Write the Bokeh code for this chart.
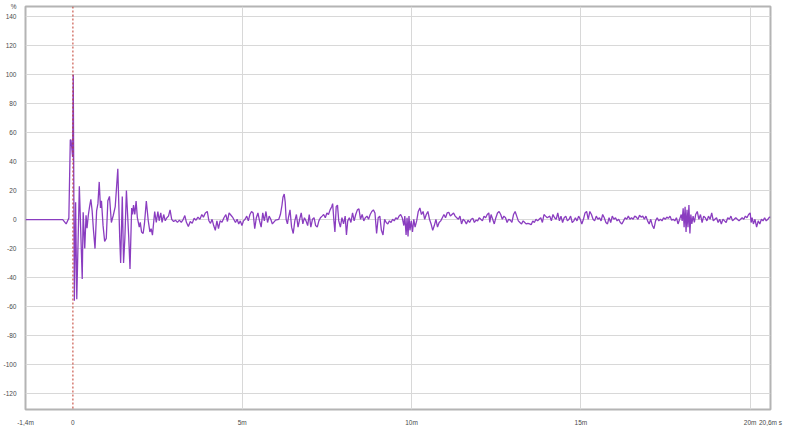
from bokeh.plotting import figure
from bokeh.models import FixedTicker, Span, Range1d
from bokeh.embed import file_html
from bokeh.resources import INLINE

# Impulse response: time in ms, level in %
time_ms = [
    -1.4, -0.3, -0.2, -0.12, -0.077, -0.057, -0.035, -0.009, 0.01, 0.043, 0.08, 0.114,
    0.19, 0.275, 0.303, 0.35, 0.388, 0.417, 0.455, 0.492, 0.53, 0.568, 0.606, 0.653,
    0.70, 0.739, 0.777, 0.814, 0.843, 0.89, 0.937, 0.985, 1.032, 1.08, 1.136, 1.193,
    1.25, 1.326, 1.383, 1.41, 1.458, 1.496, 1.534, 1.58, 1.648, 1.686, 1.735, 1.761,
    1.79, 1.828, 1.866, 1.903, 1.96, 1.989, 2.027, 2.074, 2.112, 2.168, 2.225, 2.273,
    2.31, 2.349, 2.415, 2.462, 2.509, 2.547, 2.595, 2.633, 2.68, 2.727, 2.775, 2.822,
    2.869, 2.917, 2.974, 3.03, 3.087, 3.144, 3.2, 3.258, 3.305, 3.352, 3.409, 3.466,
    3.523, 3.58, 3.636, 3.693, 3.75, 3.807, 3.854, 3.911, 3.968, 4.015, 4.063, 4.11,
    4.157, 4.205, 4.252, 4.299, 4.347, 4.403, 4.46, 4.517, 4.564, 4.612, 4.668, 4.725,
    4.801, 4.849, 4.896, 4.943, 4.991, 5.038, 5.085, 5.133, 5.18, 5.227, 5.275, 5.322,
    5.369, 5.417, 5.464, 5.511, 5.559, 5.606, 5.653, 5.701, 5.748, 5.795, 5.843, 5.89,
    5.985, 6.08, 6.127, 6.174, 6.203, 6.24, 6.269, 6.297, 6.335, 6.364, 6.411, 6.458,
    6.506, 6.553, 6.6, 6.648, 6.695, 6.742, 6.79, 6.837, 6.884, 6.932, 6.979, 7.026,
    7.074, 7.121, 7.168, 7.216, 7.263, 7.31, 7.358, 7.405, 7.453, 7.5, 7.547, 7.595,
    7.642, 7.67, 7.708, 7.737, 7.775, 7.813, 7.85, 7.898, 7.945, 7.992, 8.04, 8.078,
    8.116, 8.163, 8.21, 8.258, 8.305, 8.352, 8.4, 8.447, 8.494, 8.542, 8.589, 8.636,
    8.684, 8.731, 8.778, 8.826, 8.873, 8.92, 8.968, 9.015, 9.063, 9.11, 9.157, 9.205,
    9.252, 9.299, 9.347, 9.394, 9.441, 9.489, 9.536, 9.583, 9.631, 9.678, 9.725, 9.773,
    9.801, 9.839, 9.867, 9.896, 9.924, 9.953, 9.991, 10.028, 10.066, 10.104, 10.151, 10.199,
    10.246, 10.293, 10.341, 10.388, 10.435, 10.483, 10.53, 10.577, 10.625, 10.672, 10.72, 10.767,
    10.814, 10.862, 10.909, 10.957, 11.004, 11.051, 11.099, 11.146, 11.193, 11.241, 11.288, 11.335,
    11.383, 11.43, 11.477, 11.525, 11.572, 11.619, 11.667, 11.714, 11.761, 11.809, 11.856, 11.903,
    11.951, 11.998, 12.045, 12.093, 12.14, 12.188, 12.235, 12.282, 12.311, 12.348, 12.396, 12.443,
    12.49, 12.538, 12.585, 12.633, 12.68, 12.727, 12.775, 12.822, 12.869, 12.917, 12.964, 13.011,
    13.059, 13.106, 13.153, 13.201, 13.248, 13.295, 13.343, 13.39, 13.438, 13.485, 13.532, 13.58,
    13.627, 13.674, 13.722, 13.769, 13.816, 13.864, 13.911, 13.958, 14.006, 14.082, 14.129, 14.176,
    14.224, 14.271, 14.318, 14.366, 14.413, 14.46, 14.508, 14.555, 14.602, 14.65, 14.697, 14.744,
    14.792, 14.839, 14.886, 14.934, 14.981, 15.028, 15.076, 15.123, 15.17, 15.218, 15.265, 15.313,
    15.36, 15.407, 15.455, 15.502, 15.549, 15.597, 15.644, 15.691, 15.739, 15.786, 15.833, 15.881,
    15.928, 15.975, 16.023, 16.07, 16.117, 16.165, 16.212, 16.26, 16.307, 16.354, 16.402, 16.449,
    16.496, 16.544, 16.591, 16.638, 16.686, 16.733, 16.78, 16.828, 16.875, 16.922, 16.97, 17.017,
    17.064, 17.112, 17.159, 17.206, 17.254, 17.301, 17.349, 17.396, 17.443, 17.491, 17.538, 17.585,
    17.633, 17.68, 17.727, 17.775, 17.822, 17.869, 17.917, 17.964, 17.992, 18.021, 18.049, 18.078,
    18.106, 18.135, 18.163, 18.191, 18.22, 18.248, 18.277, 18.314, 18.352, 18.39, 18.438, 18.485,
    18.532, 18.58, 18.627, 18.674, 18.722, 18.769, 18.816, 18.864, 18.911, 18.958, 19.006, 19.053,
    19.101, 19.148, 19.195, 19.243, 19.29, 19.337, 19.385, 19.432, 19.479, 19.527, 19.574, 19.621,
    19.669, 19.716, 19.763, 19.811, 19.858, 19.905, 19.953, 20.0, 20.028, 20.057, 20.095, 20.142,
    20.19, 20.237, 20.284, 20.332, 20.379, 20.426, 20.474, 20.521, 20.568, 20.6,
]

level_pct = [
    0, 0, -3, 1, 55, 55, 50, 43, 100, -56, 12, -55,
    23, -41, 5, -20, 3, -6, 3, 9, 14, 6, -7, -20,
    6, 11, 26, 8, 13, -4, -15, -13, 13, 16, -2, 3,
    9, 35, -13, -30, 16, -30, -13, 20, -12, -34, 8, 3.5,
    10, 3.5, 12.8, 1.3, -5.2, -1.9, -8.5, -9.6, -3, 12.8, -0.8, -8.5,
    -6.3, -10.7, 5.6, -1.9, 5.6, -0.8, 4.6, -1.9, 3.5, -0.8, 1.3, 2.4,
    6.7, 0.2, -1.3, -0.4, -1.9, -0.4, -1.9, 0.2, 2.8, -1.9, -4.8, -1.3,
    -2.6, 0.9, -0.4, 1.7, 0.2, 3.5, 1.7, 4.6, 5.6, -0.8, -2.6, 0.2,
    -4.1, -7.4, -0.8, -6.3, -0.8, -1.9, 1.3, 3.5, -1.3, 4.6, 3, 1.3,
    -2, 0.2, -3, -0.9, -4.1, -0.9, 0.2, 2.4, -0.9, 3.5, 5.6, 4.6,
    -6.3, 1.3, 4.6, -0.9, -5.2, 4.6, -0.9, 5.6, -2, 2.4, 0.2, -3,
    -0.4, 0.2, 3.5, 9.9, 15.4, 17.6, 12.1, 0.2, -3, 1.3, 6.7, -5.2,
    -9.6, -0.9, 3.5, -5.2, 0.2, 4.6, -3, 1.3, -0.9, -4.1, 3.5, -5.2,
    0.2, 1.3, -4.1, -5.2, -0.9, 1.3, 2.4, 3.5, 1.3, 4.6, 3.5, 6.7,
    8.9, 11, -0.9, -8.5, 8.9, 10, -0.9, -5.2, 1.3, -3, 2.4, -10.6,
    -0.9, 1.3, -2, 4.6, -0.9, 3.5, 6.7, 7.4, 0.2, 3.5, -0.9, 1.3,
    2.4, 0.2, 3.5, 5.6, 6.7, 4.6, -9.6, 1.3, 2.4, -7.4, -10.6, 0.2,
    -2, -3, -0.9, -2, 0.2, -0.9, 1.3, 0.2, 2.4, 3.5, 1.3, -4.1,
    2.4, -10.6, 1.3, -11.7, 2.4, -7.4, -0.9, -8.5, 0.2, -5.2, -0.9, 5.6,
    8, 3.5, 5.6, 0.2, 3.5, 5.6, 0.2, -3, -7.4, -4.1, 0.2, -5.2,
    -2, -0.9, 1.3, 3.5, 1.3, 4.6, 5.0, 2.4, 3.5, 4.6, 2.4, 1.3,
    0.2, 2.4, -3, 0.2, -0.9, -3, -0.4, -2, 0.2, 0.9, -2, -0.4,
    -0.9, 1.3, 0.2, -0.9, 2.4, 1.3, 3.5, 4.6, -2, 3.5, 0.2, -3,
    1.3, 4.6, 5.6, 3.5, 0.2, 2.4, 1.3, -2, 0.2, -0.4, -2, 3.5,
    5.6, 2.4, -0.9, -2, -3, -0.9, -2, -3, -2.6, -3, -3.5, -0.9,
    -2, 0.2, -0.9, 0.2, 1.3, -2, 3.5, 2.4, 1.3, 2.4, -0.9, 3.5,
    1.3, 0.2, 4.6, -0.9, 2.4, -2, 1.3, 2.4, -0.9, 0.2, 2.4, -2,
    -0.9, 1.3, -0.9, 2.4, 0.2, -3, 0.2, 4.6, 5.6, 0.2, 5.6, 3.5,
    0.2, -0.9, 2.4, 0.2, 1.3, -0.9, 3.5, 1.3, -2, -3, 1.3, -2,
    2.4, 0.2, 1.3, -0.9, 0.2, -2, -3, -0.9, 1.3, 0.2, 2.4, 0.2,
    1.3, 0.2, 2.4, 1.7, 0.2, 3.0, 1.7, 2.4, 0.2, 2.4, -0.9, -3,
    0.2, -4.1, -6.3, -0.9, 1.3, -0.9, 0.2, -0.9, 1.3, 0.2, 1.7, 0.9,
    2.4, -0.4, 0.2, -0.9, 1.3, -3, 0.2, 3.5, -0.9, 7.8, -5.2, 8.9,
    -8.5, 6.7, -5.2, 10, -9.6, 3.5, -3, 2.4, -2, 3.5, 5.6, 0.2,
    3.5, -2, 2.4, 1.3, -0.9, 2.4, 0.2, 4.6, -0.9, 0.2, 1.3, -2,
    0.2, -3, 0.2, -0.9, -2, 1.3, 0.2, 2.4, -0.9, 0.2, 1.3, 0.2,
    -0.9, 0.2, 1.3, 0.2, 2.4, 1.3, 3.5, 4.6, -2, 1.3, -3, 0.2,
    -5.2, -0.9, -3, 0.2, -0.9, 1.3, -0.9, 0.2, 1.7, 1.5,
]

x_ticks = [-1.4, 0, 5, 10, 15, 20, 20.6]
x_tick_labels = ["-1,4m", "0", "5m", "10m", "15m", "20m", "20,6m s"]
x_grid_ticks = [5, 10, 15, 20]
y_grid_ticks = [-120, -100, -80, -60, -40, -20, 0, 20, 40, 60, 80, 100, 120, 140]
y_ticks = y_grid_ticks + [147]
y_tick_labels = [str(v) for v in y_grid_ticks] + ["%"]

FONT = "Liberation Sans"
LABEL_COLOR = "#4a4a4a"

p = figure(
    width=784, height=428,
    x_range=Range1d(-1.4, 20.6), y_range=Range1d(-131, 147),
    output_backend="svg", toolbar_location=None,
    min_border_left=0, min_border_right=14, min_border_top=6, min_border_bottom=0,
    background_fill_color="white", border_fill_color="white",
)
p.outline_line_color = "#b4b4b4"
p.outline_line_width = 2

p.xaxis.ticker = FixedTicker(ticks=x_ticks)
p.xaxis.major_label_overrides = {t: s for t, s in zip(x_ticks, x_tick_labels)}
p.yaxis.ticker = FixedTicker(ticks=y_ticks)
p.yaxis.major_label_overrides = {t: s for t, s in zip(y_ticks, y_tick_labels)}
p.xgrid.ticker = FixedTicker(ticks=x_grid_ticks)
p.ygrid.ticker = FixedTicker(ticks=y_grid_ticks)
for g in (p.xgrid, p.ygrid):
    g.grid_line_color = "#d8d8d8"
    g.grid_line_width = 1

for ax in (p.xaxis, p.yaxis):
    ax.axis_line_color = None
    ax.major_tick_line_color = None
    ax.minor_tick_line_color = None
    ax.major_label_text_font = FONT
    ax.major_label_text_font_size = "6.5px"
    ax.major_label_text_color = LABEL_COLOR
    ax.major_label_standoff = 3

p.line(time_ms, level_pct, line_color="#8a3dc0", line_width=1.3)

p.add_layout(Span(location=0, dimension="height", line_color="#c0392b",
                  line_dash="2 2", line_width=1))

open("out.html", "w").write(file_html(p, INLINE))
